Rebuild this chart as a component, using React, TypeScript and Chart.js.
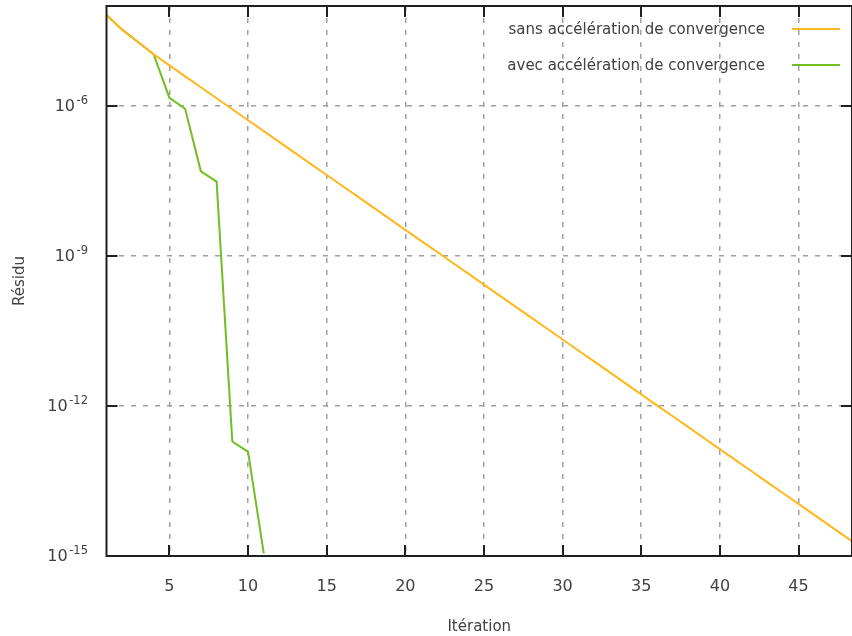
import React, { useEffect, useRef } from "react";
import { Chart, registerables } from "chart.js";

Chart.register(...registerables);

// ---- data ----
const iterSans = [
  1, 2, 3, 4, 5, 6, 7, 8, 9, 10, 11, 12, 13, 14, 15, 16, 17, 18, 19, 20, 21, 22, 23, 24, 25,
  26, 27, 28, 29, 30, 31, 32, 33, 34, 35, 36, 37, 38, 39, 40, 41, 42, 43, 44, 45, 46, 47, 48, 49,
];
const residuSans = [
  6.6e-5, 3.37e-5, 1.9e-5, 1.08e-5, 6.5e-6, 3.92e-6, 2.37e-6, 1.43e-6, 8.61e-7, 5.2e-7,
  3.14e-7, 1.9e-7, 1.14e-7, 6.9e-8, 4.17e-8, 2.51e-8, 1.52e-8, 9.16e-9, 5.52e-9, 3.33e-9,
  2.01e-9, 1.22e-9, 7.33e-10, 4.43e-10, 2.67e-10, 1.61e-10, 9.73e-11, 5.87e-11, 3.54e-11,
  2.14e-11, 1.29e-11, 7.79e-12, 4.7e-12, 2.84e-12, 1.71e-12, 1.03e-12, 6.24e-13, 3.77e-13,
  2.27e-13, 1.37e-13, 8.28e-14, 5.0e-14, 3.01e-14, 1.82e-14, 1.1e-14, 6.63e-15, 4.0e-15,
  2.42e-15, 1.46e-15,
];
const iterAvec = [1, 2, 3, 4, 5, 6, 7, 8, 9, 10, 11];
const residuAvec = [
  6.6e-5, 3.37e-5, 1.9e-5, 1.08e-5, 1.46e-6, 8.8e-7, 4.93e-8, 3.07e-8, 1.95e-13, 1.21e-13,
  1.13e-15,
];
const seriesLabels = ["sans accélération de convergence", "avec accélération de convergence"];
const xTickValues = [5, 10, 15, 20, 25, 30, 35, 40, 45];
const yTickValues = [1e-15, 1e-12, 1e-9, 1e-6];
const xTitle = "Itération";
const yTitle = "Résidu";

const FONT = "'DejaVu Sans', sans-serif";
const TEXT = "#404040";
const ORANGE = "#ffb81c";
const GREEN = "#70bf22";

const framePlugin = {
  id: "gnuFrame",
  afterDatasetsDraw(chart: any) {
    const { ctx, chartArea: a, scales } = chart;
    ctx.save();
    ctx.strokeStyle = "#202020";
    ctx.lineWidth = 2;
    ctx.beginPath();
    ctx.moveTo(a.left, a.top);
    ctx.lineTo(a.right, a.top);
    ctx.moveTo(a.left, a.top - 1);
    ctx.lineTo(a.left, a.bottom + 1);
    ctx.moveTo(a.left, a.bottom);
    ctx.lineTo(a.right, a.bottom);
    ctx.moveTo(a.right, a.top);
    ctx.lineTo(a.right, a.bottom);
    const tl = 11;
    xTickValues.forEach((v) => {
      const x = Math.round(scales.x.getPixelForValue(v));
      ctx.moveTo(x, a.bottom);
      ctx.lineTo(x, a.bottom - tl);
      ctx.moveTo(x, a.top);
      ctx.lineTo(x, a.top + tl);
    });
    yTickValues.forEach((v) => {
      const y = Math.round(scales.y.getPixelForValue(v));
      ctx.moveTo(a.left, y);
      ctx.lineTo(a.left + tl, y);
      ctx.moveTo(a.right, y);
      ctx.lineTo(a.right - tl, y);
    });
    ctx.stroke();

    // y tick labels: 10 with raised exponent
    ctx.fillStyle = TEXT;
    yTickValues.forEach((v) => {
      const y = scales.y.getPixelForValue(v);
      const exp = String(Math.round(Math.log10(v)));
      const right = a.left - 18.5;
      ctx.font = `11.5px ${FONT}`;
      ctx.textBaseline = "middle";
      ctx.textAlign = "left";
      const ew = ctx.measureText(exp).width;
      ctx.fillText(exp, right - ew, y - 5);
      ctx.font = `16px ${FONT}`;
      ctx.textAlign = "right";
      ctx.fillText("10", right - ew - 1.5, y + 1);
    });
    ctx.restore();
  },
  afterDraw(chart: any) {
    const { ctx } = chart;
    ctx.save();
    ctx.font = `15px ${FONT}`;
    ctx.fillStyle = TEXT;
    ctx.textAlign = "right";
    ctx.textBaseline = "middle";
    chart.data.datasets.forEach((ds: any, i: number) => {
      const y = 30 + i * 36;
      ctx.fillText(ds.label, 765, y);
      ctx.strokeStyle = ds.borderColor;
      ctx.lineWidth = 2;
      ctx.beginPath();
      ctx.moveTo(792, y - 1);
      ctx.lineTo(840, y - 1);
      ctx.stroke();
    });
    ctx.restore();
  },
};

export default function App() {
  const ref = useRef<HTMLCanvasElement>(null);
  useEffect(() => {
    if (!ref.current) return;
    const chart = new Chart(ref.current, {
      type: "line",
      data: {
        datasets: [
          {
            label: seriesLabels[0],
            data: iterSans.map((x, i) => ({ x, y: residuSans[i] })),
            borderColor: ORANGE,
            borderWidth: 2,
            pointRadius: 0,
            tension: 0,
          },
          {
            label: seriesLabels[1],
            data: iterAvec.map((x, i) => ({ x, y: residuAvec[i] })),
            borderColor: GREEN,
            borderWidth: 2,
            pointRadius: 0,
            tension: 0,
          },
        ],
      },
      options: {
        responsive: false,
        animation: false,
        layout: { padding: { top: 6, right: 0, left: 0, bottom: 0 } },
        plugins: { legend: { display: false }, tooltip: { enabled: false } },
        scales: {
          x: {
            type: "linear",
            min: 1,
            max: 48.4,
            afterBuildTicks: (s: any) => {
              s.ticks = xTickValues.map((value) => ({ value }));
            },
            afterFit: (s: any) => {
              s.height = 80;
              s.paddingLeft = 0;
              s.paddingRight = 0;
            },
            ticks: {
              color: TEXT,
              font: { family: FONT, size: 16 },
              padding: 21,
              maxRotation: 0,
              autoSkip: false,
              callback: (v: any) => String(v),
            },
            grid: { color: "#a0a0a0", lineWidth: 1.5, drawTicks: false },
            border: { display: false, dash: [5, 7] },
            title: {
              display: true,
              text: xTitle,
              color: TEXT,
              font: { family: FONT, size: 15 },
              padding: { top: 0, bottom: 0 },
            },
          },
          y: {
            type: "logarithmic",
            min: 1e-15,
            max: 1e-4,
            afterBuildTicks: (s: any) => {
              s.ticks = yTickValues.map((value) => ({ value }));
            },
            afterFit: (s: any) => {
              s.width = 106.5;
              s.paddingTop = 0;
              s.paddingBottom = 0;
            },
            ticks: { display: false },
            grid: { color: "#a0a0a0", lineWidth: 1.5, drawTicks: false },
            border: { display: false, dash: [5, 7] },
            title: {
              display: true,
              text: yTitle,
              color: TEXT,
              font: { family: FONT, size: 15 },
              padding: { top: 11, bottom: 0 },
            },
          },
        },
      },
      plugins: [framePlugin],
    } as any);
    return () => chart.destroy();
  }, []);
  return (
    <canvas
      ref={ref}
      width={852}
      height={636}
      style={{ position: "absolute", left: 0, top: 0, width: 852, height: 636 }}
    />
  );
}
